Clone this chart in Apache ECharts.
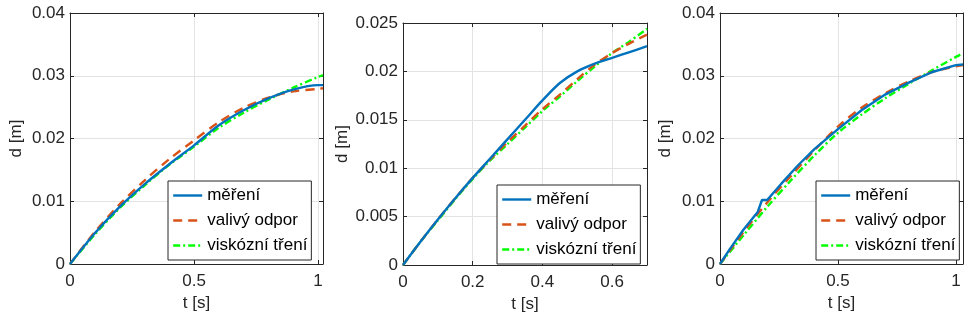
<!DOCTYPE html>
<html>
<head>
<meta charset="utf-8">
<script src="https://cdn.jsdelivr.net/npm/echarts@6/dist/echarts.min.js"></script>
<style>
html,body{margin:0;padding:0;background:#fff;}
#c{width:966px;height:322px;}
</style>
</head>
<body>
<div id="c"></div>
<script>
// ---- Data ----
const names = ['měření', 'valivý odpor', 'viskózní tření'];

// Plot 1
const t1 = [0, 0.1, 0.2, 0.3, 0.4, 0.5, 0.6, 0.7, 0.8, 0.9, 1.0, 1.02];
const meas1 = [0, 0.0049, 0.0091, 0.0127, 0.0159, 0.0189, 0.0221, 0.0245, 0.0264, 0.0278, 0.0285, 0.0285];
const roll1 = [0, 0.0051, 0.0095, 0.0133, 0.0167, 0.0197, 0.0226, 0.0249, 0.0265, 0.0275, 0.0279, 0.0280];
const visc1 = [0, 0.0047, 0.0089, 0.0125, 0.0158, 0.0187, 0.0217, 0.0241, 0.0262, 0.0281, 0.0298, 0.0301];

// Plot 2
const t2 = [0, 0.05, 0.1, 0.15, 0.2, 0.25, 0.3, 0.35, 0.4, 0.45, 0.5, 0.55, 0.6, 0.65, 0.7];
const meas2 = [0, 0.0024, 0.0047, 0.0069, 0.0090, 0.0110, 0.0130, 0.0150, 0.0170, 0.0188, 0.0200, 0.0208, 0.0214, 0.0220, 0.0226];
const roll2 = [0, 0.0024, 0.0047, 0.0069, 0.0090, 0.0109, 0.0127, 0.0144, 0.0161, 0.0176, 0.0192, 0.0207, 0.0219, 0.0229, 0.0238];
const visc2 = [0, 0.0024, 0.0046, 0.0068, 0.0089, 0.0108, 0.0125, 0.0142, 0.0159, 0.0174, 0.0190, 0.0205, 0.0219, 0.0231, 0.0244];

// Plot 3
const t3m = [0, 0.04, 0.1, 0.16, 0.178, 0.2, 0.26, 0.33, 0.4, 0.5, 0.6, 0.7, 0.8, 0.9, 1.0, 1.03];
const meas3 = [0, 0.0023, 0.0055, 0.0083, 0.0102, 0.0102, 0.0128, 0.0157, 0.0183, 0.0215, 0.0245, 0.0270, 0.0289, 0.0306, 0.0317, 0.0318];
const t3 = [0, 0.1, 0.2, 0.3, 0.4, 0.5, 0.6, 0.7, 0.8, 0.9, 1.0, 1.03];
const roll3 = [0, 0.0051, 0.0098, 0.0140, 0.0181, 0.0219, 0.0249, 0.0272, 0.0291, 0.0306, 0.0315, 0.0317];
const visc3 = [0, 0.0046, 0.0091, 0.0133, 0.0173, 0.0209, 0.0238, 0.0264, 0.0287, 0.0309, 0.0330, 0.0336];

// Axis settings
const xMax = [1.02, 0.7, 1.03];
const xInt = [0.5, 0.2, 0.5];
const yMax = [0.04, 0.025, 0.04];
const yInt = [0.01, 0.005, 0.01];

// ---- Layout / style ----
const FONT = 'Liberation Sans';
const TXT = '#262626';
const grids = [
  {left: 70, top: 13, width: 253, height: 251},
  {left: 403, top: 23, width: 244, height: 242},
  {left: 720, top: 13, width: 245, height: 251}
];
const yNameGap = [45, 52, 46];
const legendPos = [
  {left: 168, top: 181},
  {left: 497, top: 185},
  {left: 816, top: 181}
];
const colors = ['#0072BD', '#D95319', '#00FF00'];

function pairs(t, v) { return t.map((x, i) => [x, v[i]]); }
function fmt(intv) {
  return function (v) {
    const r = v / intv;
    if (Math.abs(r - Math.round(r)) > 1e-6) return '';
    return String(+v.toFixed(6));
  };
}

const xAxis = [], yAxis = [], series = [], legend = [];
const sets = [
  [pairs(t1, meas1), pairs(t1, roll1), pairs(t1, visc1)],
  [pairs(t2, meas2), pairs(t2, roll2), pairs(t2, visc2)],
  [pairs(t3m, meas3), pairs(t3, roll3), pairs(t3, visc3)]
];
const lineStyles = [
  {color: colors[0], width: 2.4, type: 'solid'},
  {color: colors[1], width: 2.4, type: [9, 6]},
  {color: colors[2], width: 2.4, type: [7, 3, 2, 3]}
];

for (let g = 0; g < 3; g++) {
  const common = {
    gridIndex: g, type: 'value', min: 0,
    axisLine: {show: true, onZero: false, lineStyle: {color: TXT, width: 1}},
    axisTick: {show: true, inside: true, length: 4, lineStyle: {color: TXT}}
  };
  xAxis.push(Object.assign({}, common, {
    max: xMax[g], interval: xInt[g], position: 'bottom',
    name: 't [s]', nameLocation: 'middle', nameGap: 28,
    nameTextStyle: {fontFamily: FONT, fontSize: 17, color: TXT},
    axisLabel: {fontFamily: FONT, fontSize: 17, color: TXT, margin: 9, formatter: fmt(xInt[g])},
    splitLine: {show: true, lineStyle: {color: '#e3e3e3', width: 1}}
  }));
  xAxis.push(Object.assign({}, common, {
    max: xMax[g], interval: xInt[g], position: 'top',
    axisLabel: {show: false}, splitLine: {show: false}
  }));
  yAxis.push(Object.assign({}, common, {
    max: yMax[g], interval: yInt[g], position: 'left',
    name: 'd [m]', nameLocation: 'middle', nameGap: yNameGap[g], nameRotate: 90,
    nameTextStyle: {fontFamily: FONT, fontSize: 17, color: TXT},
    axisLabel: {fontFamily: FONT, fontSize: 17, color: TXT, margin: 5},
    splitLine: {show: true, lineStyle: {color: '#e3e3e3', width: 1}}
  }));
  yAxis.push(Object.assign({}, common, {
    max: yMax[g], interval: yInt[g], position: 'right',
    axisLabel: {show: false}, splitLine: {show: false}
  }));
  for (let s = 0; s < 3; s++) {
    series.push({
      type: 'line', name: names[s],
      xAxisIndex: g * 2, yAxisIndex: g * 2,
      data: sets[g][s], symbol: 'none', smooth: s === 0 && g === 2 ? false : 0.3,
      color: colors[s],
      lineStyle: lineStyles[s], z: 3 + (2 - s)
    });
  }
  legend.push({
    left: legendPos[g].left, top: legendPos[g].top, orient: 'vertical',
    data: names, selectedMode: false,
    backgroundColor: '#fff', borderColor: TXT, borderWidth: 1, borderRadius: 0,
    padding: [6, 4, 6, 4], itemWidth: 29, itemHeight: 14, itemGap: 8,
    itemStyle: {opacity: 0},
    lineStyle: {width: 2.4},
    textStyle: {fontFamily: FONT, fontSize: 17, color: '#000'}
  });
}

const chart = echarts.init(document.getElementById('c'), null, {renderer: 'canvas'});
chart.setOption({
  animation: false,
  backgroundColor: '#fff',
  grid: grids,
  xAxis: xAxis,
  yAxis: yAxis,
  legend: legend,
  series: series
});
</script>
</body>
</html>
